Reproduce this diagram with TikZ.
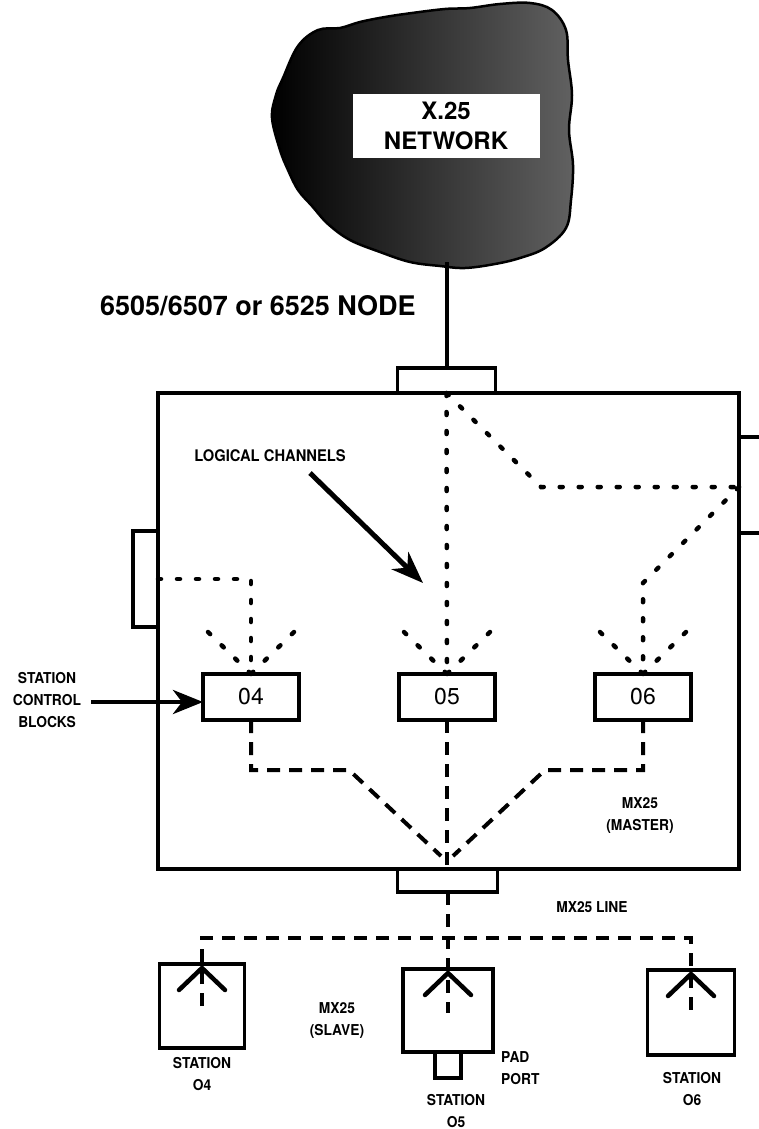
\documentclass[tikz,border=0pt]{standalone}
\usepackage{fontspec}
\setmainfont{TeX Gyre Heros}
\newfontfamily\condfont[FakeStretch=0.92]{TeX Gyre Heros}
\usetikzlibrary{arrows.meta,positioning}

\begin{document}
\begin{tikzpicture}[x=1pt, y=-1pt,
    box/.style={draw, line width=3.5pt, inner sep=0pt, outer sep=0pt},
    lbl/.style={font=\condfont\bfseries\fontsize{15}{22}\selectfont, align=center, inner sep=0pt},
    dots/.style={line width=4.5pt, line cap=round, dash pattern=on 3pt off 16pt},
    dashes/.style={line width=4pt, dash pattern=on 13pt off 9pt},
    wire/.style={line width=3.5pt}]
  \useasboundingbox (0,0) rectangle (758,1129);

  % network cloud
  \shade[draw=black, line width=2.5pt, left color=black, right color=black!62]
    plot[smooth cycle, tension=0.6] coordinates {(272,118) (276,95) (283,78) (298,46) (318,30) (340,28)
      (360,22) (385,17) (412,13) (445,9) (470,8) (500,4) (530,3) (552,10) (566,30) (568,60) (572,95)
      (569,130) (573,165) (571,200) (566,228) (545,248) (520,258) (495,264) (465,268) (440,266)
      (410,262) (380,252) (350,240) (328,224) (312,206) (298,190) (288,170) (280,150)};
  \node[fill=white, minimum width=187pt, minimum height=63pt, align=center, inner sep=0pt,
        font=\bfseries\fontsize{24}{30}\selectfont] (net) at (446,126) {X.25\\NETWORK};
  \coordinate (cloudbot) at (447,262);

  \node[anchor=west, inner sep=0pt, font=\bfseries\fontsize{27}{30}\selectfont] (title) at (100,306) {6505/6507 or 6525 NODE};

  % node box and ports
  \node[box, minimum width=581pt, minimum height=476pt] (mx) at (448.5,631) {};
  \node[box, minimum width=98pt, minimum height=25pt, above=0pt of mx.north, xshift=-2pt] (tport) {};
  \node[box, minimum width=100pt, minimum height=23pt, below=0pt of mx.south, xshift=-1pt] (bport) {};
  \node[box, minimum width=25pt, minimum height=96pt, anchor=east] (lport) at (158,579) {};
  \draw[wire] (mx.east |- 0,437) -- ++(30,0);
  \draw[wire] (mx.east |- 0,533) -- ++(30,0);
  \draw[wire] (cloudbot) -- (tport.north -| cloudbot);

  % station control blocks
  \node[box, minimum width=96pt, minimum height=46pt, font=\fontsize{23}{26}\selectfont] (b04) at (251,697) {04};
  \node[box, minimum width=96pt, minimum height=46pt, font=\fontsize{23}{26}\selectfont, right=100pt of b04] (b05) {05};
  \node[box, minimum width=96pt, minimum height=46pt, font=\fontsize{23}{26}\selectfont, right=100pt of b05] (b06) {06};

  % logical channels
  \draw[dots] (tport.south) -- (b05.north);
  \draw[dots] (tport.south) -- (541,487) -- (mx.east |- 0,487);
  \draw[dots] (mx.east |- 0,487) -- (643,583) -- (b06.north);
  \draw[dots] (lport.east) -- (lport.east -| b04.north) -- (b04.north);
  \foreach \b in {b04,b05,b06} {
    \draw[dots] ([xshift=-43pt,yshift=42pt]\b.north) -- (\b.north);
    \draw[dots] ([xshift=43pt,yshift=42pt]\b.north) -- (\b.north);
  }

  % to the MX25 line
  \draw[dashes] (b04.south) -- (b04.south |- 0,770) -- (349,770) -- (441,856);
  \draw[dashes] (b06.south) -- (b06.south |- 0,770) -- (545,770) -- (453,856);
  \draw[dashes] (b05.south) -- (mx.south -| b05.south);

  \node[lbl, font=\condfont\bfseries\fontsize{16}{22}\selectfont] (lc) at (270,456) {LOGICAL CHANNELS};
  \coordinate (lcfrom) at (310,473);
  \coordinate (lcto) at (423,583);
  \draw[line width=5pt, -{Stealth[length=32pt, width=24pt, inset=10pt]}] (lcfrom) -- (lcto);

  \node[lbl] (scb) at (47,700) {STATION\\CONTROL\\BLOCKS};
  \draw[line width=4.5pt, -{Stealth[length=30pt, width=24pt, inset=9pt]}] (scb.east |- b04.west) ++(10,5) -- ([yshift=-5pt]b04.west);

  \node[lbl] (master) at (640,816) {MX25\\(MASTER)};
  \node[lbl] (mxline) at (592,907) {MX25 LINE};

  % slave stations
  \coordinate (bus) at (448,938);
  \node[box, minimum width=85pt, minimum height=84pt] (s04) at (202,1006) {};
  \node[box, minimum width=90pt, minimum height=83pt] (s05) at (448,1010.5) {};
  \node[box, minimum width=87pt, minimum height=85pt] (s06) at (691,1012.5) {};
  \node[box, minimum width=26pt, minimum height=26pt, below=0pt of s05] (pad) {};

  \draw[dashes] ([yshift=-4pt]s04.north |- 0,1002) -- (s04.north |- bus) -- (s06.north |- bus) -- ([yshift=-6pt]s06.north |- 0,1009);
  \draw[dashes] (bport.south -| bus) -- (s05.north |- 0,1013);
  \foreach \s in {s04,s05,s06} {
    \draw[line width=4.5pt, line cap=round] ([xshift=-23pt,yshift=-26pt]\s.north) -- ([yshift=-4pt]\s.north) -- ([xshift=23pt,yshift=-26pt]\s.north);
  }

  \node[lbl] (slave) at (337,1021) {MX25\\(SLAVE)};
  \node[lbl, align=left, anchor=west] (padlbl) at (501,1068) {PAD\\PORT};
  \node[lbl] (st04) at (202,1074) {STATION\\O4};
  \node[lbl] (st05) at (456,1111) {STATION\\O5};
  \node[lbl] (st06) at (692,1089) {STATION\\O6};
\end{tikzpicture}
\end{document}
